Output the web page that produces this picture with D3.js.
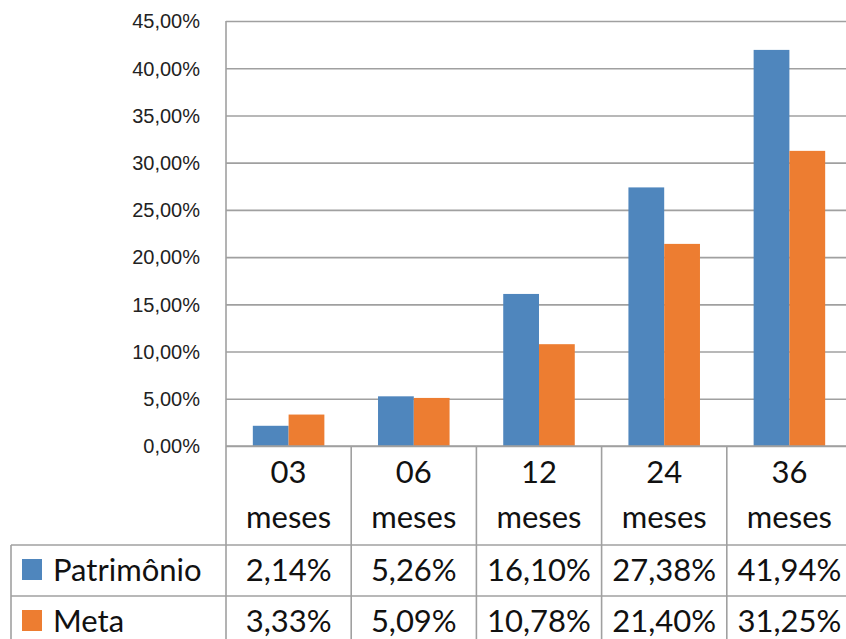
<!DOCTYPE html>
<html>
<head>
<meta charset="utf-8">
<script src="https://cdn.jsdelivr.net/npm/d3@7"></script>
<style>
  body { margin: 0; background: #fff; }
  svg { display: block; font-family: Lato, "Open Sans", sans-serif; }
</style>
</head>
<body>
<div id="chart"></div>
<script>
// dados
const periodos = ["03", "06", "12", "24", "36"];
const unidade = "meses";
const series = ["Patrimônio", "Meta"];
const patrimonio = [2.14, 5.26, 16.10, 27.38, 41.94];
const meta = [3.33, 5.09, 10.78, 21.40, 31.25];
const yTicks = [0, 5, 10, 15, 20, 25, 30, 35, 40, 45];
const cores = ["#4f86bd", "#ed7d31"];

const width = 846;
const height = 639;
const plot = { left: 226, right: 852, top: 21, bottom: 446 };
const rowH = 51; // altura das linhas da tabela
const headerBottom = 545;
const tableLeft = 11;

const br = d3.formatLocale({ decimal: ",", thousands: ".", grouping: [3], currency: ["R$", ""] });
const fmt = v => br.format(".2f")(v) + "%";

const valores = series.map((s, i) => ({ nome: s, cor: cores[i], vals: i === 0 ? patrimonio : meta }));

const svg = d3.select("#chart")
    .append("svg")
    .attr("width", width)
    .attr("height", height);

const x0 = d3.scaleBand()
    .domain(periodos)
    .range([plot.left, plot.right])
    .padding(0);

// gap de 150% como no Excel
const bw = x0.bandwidth() / 3.5;
const x1 = d3.scaleBand()
    .domain(series)
    .range([0.75 * bw, 2.75 * bw])
    .padding(0);

const y = d3.scaleLinear()
    .domain([0, 45])
    .range([plot.bottom, plot.top]);

// linhas de grade + rótulos do eixo y
const yAxis = d3.axisLeft(y)
    .tickValues(yTicks)
    .tickFormat(fmt)
    .tickSize(-(plot.right - plot.left))
    .tickPadding(26);

const yg = svg.append("g")
    .attr("transform", `translate(${plot.left},0)`)
    .call(yAxis);
yg.select(".domain").remove();
yg.selectAll(".tick line")
    .attr("stroke", "#a0a0a0")
    .attr("stroke-width", 1.6);
yg.selectAll(".tick text")
    .attr("fill", "#222")
    .style("font-size", "20px")
    .attr("dy", "0.34em");

// barras
const grupos = svg.append("g")
    .selectAll("g")
    .data(valores)
    .enter()
    .append("g")
    .attr("fill", d => d.cor);

grupos.selectAll("rect")
    .data(d => d.vals.map((v, i) => ({ serie: d.nome, periodo: periodos[i], v: v })))
    .enter()
    .append("rect")
    .attr("x", d => x0(d.periodo) + x1(d.serie))
    .attr("y", d => y(d.v))
    .attr("width", x1.bandwidth())
    .attr("height", d => y(0) - y(d.v));

// tabela de dados
const linhas = svg.append("g")
    .attr("stroke", "#a0a0a0")
    .attr("stroke-width", 1.6);

// eixo y (linha vertical) até o fim do cabeçalho
linhas.append("line")
    .attr("x1", plot.left).attr("x2", plot.left)
    .attr("y1", plot.top).attr("y2", height);

// linhas horizontais
[plot.bottom].forEach(yy => {
    linhas.append("line")
        .attr("x1", plot.left).attr("x2", plot.right)
        .attr("y1", yy).attr("y2", yy);
});
[headerBottom, headerBottom + rowH, headerBottom + 2 * rowH].forEach(yy => {
    linhas.append("line")
        .attr("x1", tableLeft).attr("x2", plot.right)
        .attr("y1", yy).attr("y2", yy);
});
linhas.append("line")
    .attr("x1", tableLeft).attr("x2", tableLeft)
    .attr("y1", headerBottom).attr("y2", height);

// divisórias verticais entre categorias
linhas.selectAll(".div")
    .data(periodos.slice(1))
    .enter()
    .append("line")
    .attr("x1", d => x0(d)).attr("x2", d => x0(d))
    .attr("y1", plot.bottom).attr("y2", height);

const txt = svg.append("g")
    .attr("fill", "#111")
    .style("font-size", "31px")
    .attr("text-anchor", "middle");

// cabeçalho das categorias
periodos.forEach(p => {
    const cx = x0(p) + x0.bandwidth() / 2;
    txt.append("text").attr("x", cx).attr("y", 483).text(p);
    txt.append("text").attr("x", cx).attr("y", 528).text(unidade);
});

// linhas de valores
valores.forEach((s, i) => {
    const base = headerBottom + rowH * i + 36;
    svg.append("rect")
        .attr("x", 22)
        .attr("y", headerBottom + rowH * i + 14)
        .attr("width", 20)
        .attr("height", 21)
        .attr("fill", s.cor);
    svg.append("text")
        .attr("x", 53)
        .attr("y", base)
        .attr("fill", "#111")
        .style("font-size", "31px")
        .text(s.nome);
    s.vals.forEach((v, j) => {
        txt.append("text")
            .attr("x", x0(periodos[j]) + x0.bandwidth() / 2)
            .attr("y", base)
            .text(fmt(v));
    });
});
</script>
</body>
</html>
